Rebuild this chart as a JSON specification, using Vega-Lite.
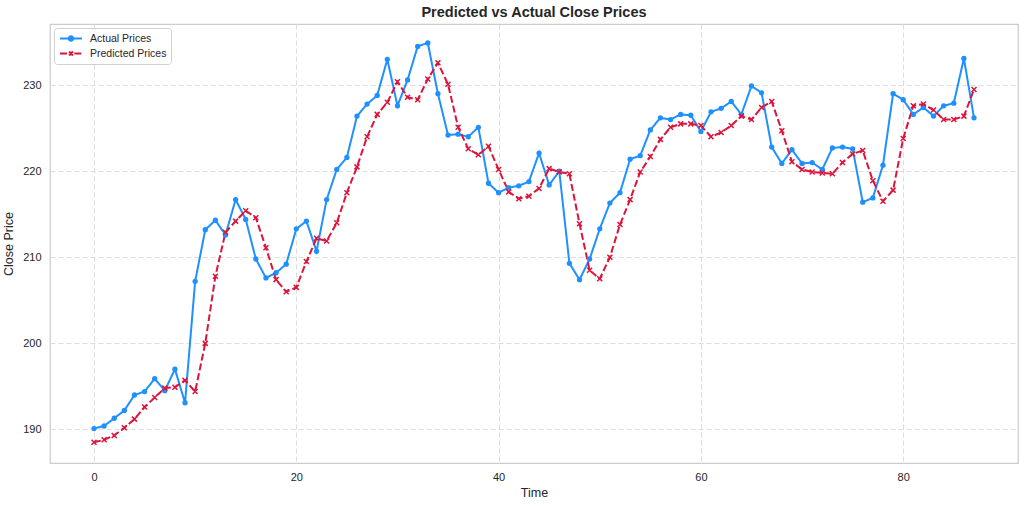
{
  "$schema": "https://vega.github.io/schema/vega-lite/v6.json",
  "width": 968,
  "height": 439,
  "autosize": "none",
  "padding": {"left": 50, "top": 24, "right": 6, "bottom": 43},
  "background": "white",
  "title": {"text": "Predicted vs Actual Close Prices", "fontSize": 14.5, "fontWeight": "bold", "font": "Liberation Sans", "color": "#262626", "offset": 4, "anchor": "middle"},
  "config": {
    "view": {"stroke": "#cccccc", "strokeWidth": 1.25},
    "axis": {"domain": false, "ticks": false, "grid": true, "gridColor": "#dcdcdc", "gridDash": [5, 3], "gridWidth": 1, "labelFont": "Liberation Sans", "labelFontSize": 11, "labelColor": "#262626", "titleFont": "Liberation Sans", "titleFontSize": 12.5, "titleFontWeight": "normal", "titleColor": "#262626"}
  },
  "data": {"values": [
    {"time":0,"series":"Actual Prices","price":190.1},{"time":1,"series":"Actual Prices","price":190.4},{"time":2,"series":"Actual Prices","price":191.3},{"time":3,"series":"Actual Prices","price":192.2},{"time":4,"series":"Actual Prices","price":194.0},{"time":5,"series":"Actual Prices","price":194.4},{"time":6,"series":"Actual Prices","price":195.9},{"time":7,"series":"Actual Prices","price":194.5},{"time":8,"series":"Actual Prices","price":197.0},{"time":9,"series":"Actual Prices","price":193.1},
    {"time":10,"series":"Actual Prices","price":207.2},{"time":11,"series":"Actual Prices","price":213.2},{"time":12,"series":"Actual Prices","price":214.3},{"time":13,"series":"Actual Prices","price":212.6},{"time":14,"series":"Actual Prices","price":216.7},{"time":15,"series":"Actual Prices","price":214.4},{"time":16,"series":"Actual Prices","price":209.8},{"time":17,"series":"Actual Prices","price":207.6},{"time":18,"series":"Actual Prices","price":208.2},{"time":19,"series":"Actual Prices","price":209.2},
    {"time":20,"series":"Actual Prices","price":213.3},{"time":21,"series":"Actual Prices","price":214.2},{"time":22,"series":"Actual Prices","price":210.7},{"time":23,"series":"Actual Prices","price":216.7},{"time":24,"series":"Actual Prices","price":220.2},{"time":25,"series":"Actual Prices","price":221.6},{"time":26,"series":"Actual Prices","price":226.4},{"time":27,"series":"Actual Prices","price":227.8},{"time":28,"series":"Actual Prices","price":228.8},{"time":29,"series":"Actual Prices","price":233.0},
    {"time":30,"series":"Actual Prices","price":227.6},{"time":31,"series":"Actual Prices","price":230.6},{"time":32,"series":"Actual Prices","price":234.5},{"time":33,"series":"Actual Prices","price":234.9},{"time":34,"series":"Actual Prices","price":229.0},{"time":35,"series":"Actual Prices","price":224.2},{"time":36,"series":"Actual Prices","price":224.3},{"time":37,"series":"Actual Prices","price":224.0},{"time":38,"series":"Actual Prices","price":225.1},{"time":39,"series":"Actual Prices","price":218.6},
    {"time":40,"series":"Actual Prices","price":217.5},{"time":41,"series":"Actual Prices","price":218.1},{"time":42,"series":"Actual Prices","price":218.3},{"time":43,"series":"Actual Prices","price":218.8},{"time":44,"series":"Actual Prices","price":222.1},{"time":45,"series":"Actual Prices","price":218.4},{"time":46,"series":"Actual Prices","price":220.0},{"time":47,"series":"Actual Prices","price":209.3},{"time":48,"series":"Actual Prices","price":207.4},{"time":49,"series":"Actual Prices","price":209.8},
    {"time":50,"series":"Actual Prices","price":213.3},{"time":51,"series":"Actual Prices","price":216.3},{"time":52,"series":"Actual Prices","price":217.5},{"time":53,"series":"Actual Prices","price":221.4},{"time":54,"series":"Actual Prices","price":221.8},{"time":55,"series":"Actual Prices","price":224.8},{"time":56,"series":"Actual Prices","price":226.2},{"time":57,"series":"Actual Prices","price":226.0},{"time":58,"series":"Actual Prices","price":226.6},{"time":59,"series":"Actual Prices","price":226.5},
    {"time":60,"series":"Actual Prices","price":224.6},{"time":61,"series":"Actual Prices","price":226.9},{"time":62,"series":"Actual Prices","price":227.3},{"time":63,"series":"Actual Prices","price":228.1},{"time":64,"series":"Actual Prices","price":226.6},{"time":65,"series":"Actual Prices","price":229.9},{"time":66,"series":"Actual Prices","price":229.1},{"time":67,"series":"Actual Prices","price":222.8},{"time":68,"series":"Actual Prices","price":220.9},{"time":69,"series":"Actual Prices","price":222.5},
    {"time":70,"series":"Actual Prices","price":220.9},{"time":71,"series":"Actual Prices","price":221.0},{"time":72,"series":"Actual Prices","price":220.2},{"time":73,"series":"Actual Prices","price":222.7},{"time":74,"series":"Actual Prices","price":222.8},{"time":75,"series":"Actual Prices","price":222.6},{"time":76,"series":"Actual Prices","price":216.4},{"time":77,"series":"Actual Prices","price":216.9},{"time":78,"series":"Actual Prices","price":220.7},{"time":79,"series":"Actual Prices","price":229.0},
    {"time":80,"series":"Actual Prices","price":228.3},{"time":81,"series":"Actual Prices","price":226.6},{"time":82,"series":"Actual Prices","price":227.4},{"time":83,"series":"Actual Prices","price":226.4},{"time":84,"series":"Actual Prices","price":227.6},{"time":85,"series":"Actual Prices","price":227.9},{"time":86,"series":"Actual Prices","price":233.1},{"time":87,"series":"Actual Prices","price":226.2},
    {"time":0,"series":"Predicted Prices","price":188.5},{"time":1,"series":"Predicted Prices","price":188.8},{"time":2,"series":"Predicted Prices","price":189.3},{"time":3,"series":"Predicted Prices","price":190.2},{"time":4,"series":"Predicted Prices","price":191.2},{"time":5,"series":"Predicted Prices","price":192.6},{"time":6,"series":"Predicted Prices","price":193.7},{"time":7,"series":"Predicted Prices","price":194.8},{"time":8,"series":"Predicted Prices","price":194.9},{"time":9,"series":"Predicted Prices","price":195.7},
    {"time":10,"series":"Predicted Prices","price":194.4},{"time":11,"series":"Predicted Prices","price":200.0},{"time":12,"series":"Predicted Prices","price":207.8},{"time":13,"series":"Predicted Prices","price":212.9},{"time":14,"series":"Predicted Prices","price":214.2},{"time":15,"series":"Predicted Prices","price":215.4},{"time":16,"series":"Predicted Prices","price":214.6},{"time":17,"series":"Predicted Prices","price":211.1},{"time":18,"series":"Predicted Prices","price":207.4},{"time":19,"series":"Predicted Prices","price":206.0},
    {"time":20,"series":"Predicted Prices","price":206.5},{"time":21,"series":"Predicted Prices","price":209.5},{"time":22,"series":"Predicted Prices","price":212.2},{"time":23,"series":"Predicted Prices","price":211.9},{"time":24,"series":"Predicted Prices","price":214.0},{"time":25,"series":"Predicted Prices","price":217.5},{"time":26,"series":"Predicted Prices","price":220.5},{"time":27,"series":"Predicted Prices","price":224.0},{"time":28,"series":"Predicted Prices","price":226.6},{"time":29,"series":"Predicted Prices","price":228.0},
    {"time":30,"series":"Predicted Prices","price":230.4},{"time":31,"series":"Predicted Prices","price":228.6},{"time":32,"series":"Predicted Prices","price":228.3},{"time":33,"series":"Predicted Prices","price":230.7},{"time":34,"series":"Predicted Prices","price":232.6},{"time":35,"series":"Predicted Prices","price":230.1},{"time":36,"series":"Predicted Prices","price":225.1},{"time":37,"series":"Predicted Prices","price":222.6},{"time":38,"series":"Predicted Prices","price":221.9},{"time":39,"series":"Predicted Prices","price":222.9},
    {"time":40,"series":"Predicted Prices","price":220.2},{"time":41,"series":"Predicted Prices","price":217.6},{"time":42,"series":"Predicted Prices","price":216.8},{"time":43,"series":"Predicted Prices","price":217.1},{"time":44,"series":"Predicted Prices","price":218.0},{"time":45,"series":"Predicted Prices","price":220.3},{"time":46,"series":"Predicted Prices","price":219.9},{"time":47,"series":"Predicted Prices","price":219.7},{"time":48,"series":"Predicted Prices","price":213.9},{"time":49,"series":"Predicted Prices","price":208.5},
    {"time":50,"series":"Predicted Prices","price":207.5},{"time":51,"series":"Predicted Prices","price":210.0},{"time":52,"series":"Predicted Prices","price":213.8},{"time":53,"series":"Predicted Prices","price":216.7},{"time":54,"series":"Predicted Prices","price":219.9},{"time":55,"series":"Predicted Prices","price":221.7},{"time":56,"series":"Predicted Prices","price":223.7},{"time":57,"series":"Predicted Prices","price":225.1},{"time":58,"series":"Predicted Prices","price":225.5},{"time":59,"series":"Predicted Prices","price":225.5},
    {"time":60,"series":"Predicted Prices","price":225.3},{"time":61,"series":"Predicted Prices","price":224.0},{"time":62,"series":"Predicted Prices","price":224.5},{"time":63,"series":"Predicted Prices","price":225.3},{"time":64,"series":"Predicted Prices","price":226.4},{"time":65,"series":"Predicted Prices","price":226.0},{"time":66,"series":"Predicted Prices","price":227.4},{"time":67,"series":"Predicted Prices","price":228.1},{"time":68,"series":"Predicted Prices","price":224.7},{"time":69,"series":"Predicted Prices","price":221.1},
    {"time":70,"series":"Predicted Prices","price":220.2},{"time":71,"series":"Predicted Prices","price":219.9},{"time":72,"series":"Predicted Prices","price":219.8},{"time":73,"series":"Predicted Prices","price":219.7},{"time":74,"series":"Predicted Prices","price":221.0},{"time":75,"series":"Predicted Prices","price":222.0},{"time":76,"series":"Predicted Prices","price":222.4},{"time":77,"series":"Predicted Prices","price":218.9},{"time":78,"series":"Predicted Prices","price":216.5},{"time":79,"series":"Predicted Prices","price":217.8},
    {"time":80,"series":"Predicted Prices","price":223.8},{"time":81,"series":"Predicted Prices","price":227.6},{"time":82,"series":"Predicted Prices","price":227.8},{"time":83,"series":"Predicted Prices","price":227.1},{"time":84,"series":"Predicted Prices","price":226.0},{"time":85,"series":"Predicted Prices","price":226.0},{"time":86,"series":"Predicted Prices","price":226.4},{"time":87,"series":"Predicted Prices","price":229.5}
  ]},
  "encoding": {
    "x": {"field": "time", "type": "quantitative", "scale": {"domain": [-4.35, 91.35], "nice": false, "zero": false}, "axis": {"values": [0, 20, 40, 60, 80], "title": "Time", "labelPadding": 8, "titlePadding": 4}},
    "y": {"field": "price", "type": "quantitative", "scale": {"domain": [186.1, 237.1], "nice": false, "zero": false}, "axis": {"values": [190, 200, 210, 220, 230], "title": "Close Price", "labelPadding": 9, "titlePadding": 7}},
    "color": {"field": "series", "type": "nominal", "scale": {"domain": ["Actual Prices", "Predicted Prices"], "range": ["#1E90FF", "#DC143C"]},
      "legend": {"title": null, "orient": "top-left", "offset": 4, "padding": 4, "strokeColor": "#d0d0d0", "fillColor": "white", "cornerRadius": 3, "labelFont": "Liberation Sans", "labelFontSize": 10.5, "labelColor": "#262626", "symbolSize": 121, "symbolStrokeWidth": 2, "symbolOffset": 6.5, "rowPadding": 2, "labelOffset": 12.5,
        "encode": {"symbols": {"update": {
          "shape": {"signal": "datum.value === 'Actual Prices' ? 'M-2,0L2,0M-0.4,0A0.4,0.4 0 1,1 0.4,0A0.4,0.4 0 1,1 -0.4,0Z' : 'M-2,0L-0.6,0M0.6,0L2,0M-0.35,-0.35L0.35,0.35M-0.35,0.35L0.35,-0.35'"},
          "fill": {"signal": "datum.value === 'Actual Prices' ? '#1E90FF' : 'transparent'"},
          "stroke": {"signal": "datum.value === 'Actual Prices' ? '#1E90FF' : '#DC143C'"},
          "strokeDash": {"value": [1, 0]},
          "strokeWidth": {"value": 2},
          "opacity": {"value": 1}
        }}}
      }
    }
  },
  "layer": [
    {"mark": {"type": "line", "strokeWidth": 2, "clip": true},
     "encoding": {"strokeDash": {"field": "series", "type": "nominal", "scale": {"domain": ["Actual Prices", "Predicted Prices"], "range": [[1, 0], [7, 3]]}, "legend": null}}},
    {"transform": [{"filter": "datum.series === 'Actual Prices'"}],
     "mark": {"type": "point", "shape": "circle", "filled": true, "size": 28, "opacity": 1}},
    {"transform": [{"filter": "datum.series === 'Predicted Prices'"}],
     "mark": {"type": "point", "shape": "M-1,-1L1,1M-1,1L1,-1", "filled": false, "strokeWidth": 1.5, "size": 25, "opacity": 1}}
  ]
}
